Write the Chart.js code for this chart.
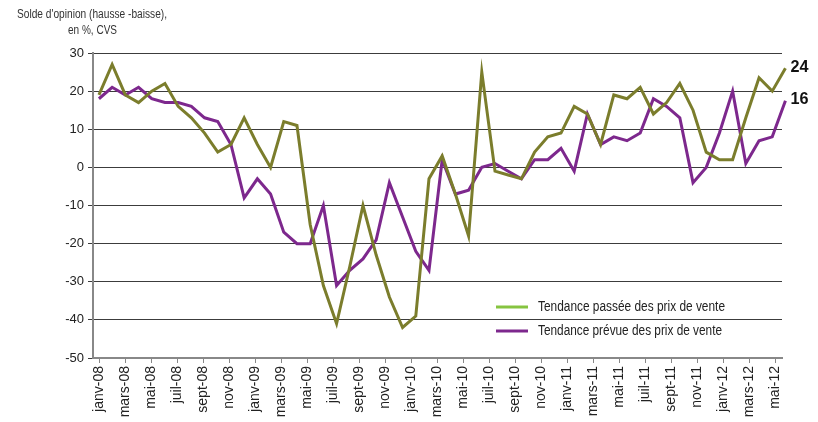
<!DOCTYPE html>
<html>
<head>
<meta charset="utf-8">
<script src="https://cdn.jsdelivr.net/npm/chart.js@4"></script>
<style>
  body { margin: 0; background: #fff; }
  canvas { display: block; }
</style>
</head>
<body>
<canvas id="prixChart" width="818" height="422"></canvas>
<script>
const months = ['janv-08','févr-08','mars-08','avr-08','mai-08','juin-08','juil-08','août-08','sept-08','oct-08','nov-08','déc-08',
  'janv-09','févr-09','mars-09','avr-09','mai-09','juin-09','juil-09','août-09','sept-09','oct-09','nov-09','déc-09',
  'janv-10','févr-10','mars-10','avr-10','mai-10','juin-10','juil-10','août-10','sept-10','oct-10','nov-10','déc-10',
  'janv-11','févr-11','mars-11','avr-11','mai-11','juin-11','juil-11','août-11','sept-11','oct-11','nov-11','déc-11',
  'janv-12','févr-12','mars-12','avr-12','mai-12'];

const passee = [19,27,19,17,20,22,16,13,9,4,6,13,
  6,0,12,11,-15,-31,-41,-26,-10,-23,-34,-42,
  -39,-3,3,-7,-18,25,-1,-2,-3,4,8,9,
  16,14,6,19,18,21,14,17,22,15,4,2,
  2,13,23.5,20,26];

const prevue = [18,21,19,21,18,17,17,16,13,12,6,-8,
  -3,-7,-17,-20,-20,-10,-31,-27,-24,-19,-4,-13,
  -22,-27,2,-7,-6,0,1,-1,-3,2,2,5,
  -1,14,6,8,7,9,18,16,13,-4,0,9,
  20,1,7,8,17.5];

const seriesNames = ['Tendance passée des prix de vente', 'Tendance prévue des prix de vente'];
const endLabels = ['24', '16'];
const yTicks = [30, 20, 10, 0, -10, -20, -30, -40, -50];
const titleLines = ["Solde d'opinion (hausse -baisse),", 'en %, CVS'];

const arial = "'Liberation Sans', Arial, sans-serif";
const olive = '#7b7d2c';
const purple = '#7d288d';
const legendGreen = '#86c440';

Chart.defaults.font.family = arial;
Chart.defaults.color = '#222';

// the original figure is squeezed sideways, so flat text is drawn narrower
function squeezed(ctx, text, x, y, width) {
  const w = ctx.measureText(text).width;
  ctx.save();
  ctx.translate(x, y);
  ctx.scale(width / w, 1);
  ctx.fillText(text, 0, 0);
  ctx.restore();
}

const extras = {
  id: 'extras',
  afterDraw(chart) {
    const ctx = chart.ctx;
    ctx.save();
    ctx.textBaseline = 'middle';
    ctx.textAlign = 'left';

    // title
    ctx.fillStyle = '#333';
    ctx.font = '12.5px ' + arial;
    squeezed(ctx, titleLines[0], 17, 15, 150);
    squeezed(ctx, titleLines[1], 68, 31, 49);

    // end labels
    ctx.font = 'bold 16px ' + arial;
    ctx.fillStyle = '#111';
    chart.data.datasets.forEach((ds, k) => {
      const pts = chart.getDatasetMeta(k).data;
      const p = pts[pts.length - 1];
      squeezed(ctx, endLabels[k], p.x + 5, p.y - 1, 18);
    });

    // legend
    const colors = [legendGreen, purple];
    ctx.font = '14px ' + arial;
    ctx.fillStyle = '#222';
    [307, 331].forEach((y, k) => {
      ctx.strokeStyle = colors[k];
      ctx.lineWidth = 3;
      ctx.beginPath();
      ctx.moveTo(496, y);
      ctx.lineTo(528, y);
      ctx.stroke();
      squeezed(ctx, seriesNames[k], 538, y, k === 0 ? 187 : 184);
    });
    ctx.restore();
  }
};

new Chart(document.getElementById('prixChart').getContext('2d'), {
  type: 'line',
  data: {
    labels: months,
    datasets: [{
      label: seriesNames[0],
      data: passee.map((v, i) => ({ x: i, y: v })),
      borderColor: olive,
      borderWidth: 3,
      pointRadius: 0,
      xAxisID: 'xd',
      clip: false
    }, {
      label: seriesNames[1],
      data: prevue.map((v, i) => ({ x: i, y: v })),
      borderColor: purple,
      borderWidth: 3,
      pointRadius: 0,
      xAxisID: 'xd',
      clip: false
    }]
  },
  options: {
    responsive: false,
    animation: false,
    layout: { padding: { left: 0, top: 53, right: 36, bottom: 0 } },
    plugins: { legend: { display: false }, tooltip: { enabled: false } },
    scales: {
      x: {
        type: 'category',
        offset: true,
        afterFit(s) { s.height = 64; },
        grid: { drawOnChartArea: false, tickLength: 5, color: '#888', lineWidth: 1 },
        border: { color: '#888', width: 2 },
        ticks: {
          autoSkip: false,
          maxRotation: 90,
          minRotation: 90,
          padding: 3,
          font: { size: 14 },
          color: '#222',
          callback(v, i) { return i % 2 === 0 ? months[i] : null; }
        }
      },
      xd: {
        type: 'linear',
        display: false,
        min: -0.45,
        max: 51.74
      },
      y: {
        min: -50,
        max: 30,
        afterFit(s) { s.width = 93; },
        afterBuildTicks(s) { s.ticks = yTicks.map(v => ({ value: v })); },
        grid: { color: '#3c3c3c', lineWidth: 1, tickLength: 5 },
        border: { color: '#888', width: 2 },
        ticks: { font: { size: 13 }, color: '#222', padding: 4 }
      }
    }
  },
  plugins: [extras]
});
</script>
</body>
</html>
